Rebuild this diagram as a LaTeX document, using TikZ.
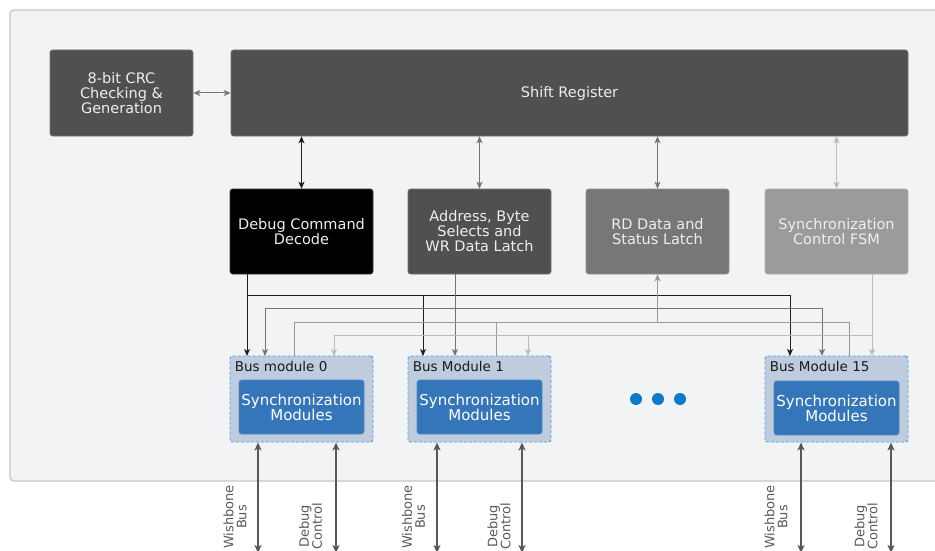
\documentclass[tikz,border=0pt]{standalone}
\usepackage{fontspec}
\setmainfont{DejaVu Sans}
\usetikzlibrary{arrows.meta,calc}

\definecolor{pagebg}{HTML}{FFFFFF}
\definecolor{panel}{HTML}{F2F3F5}
\definecolor{panelline}{HTML}{C6C7C9}
\definecolor{darkblk}{HTML}{505050}
\definecolor{midblk}{HTML}{777777}
\definecolor{lightblk}{HTML}{9B9B9B}
\definecolor{blocktext}{HTML}{EEEEEE}
\definecolor{busfill}{HTML}{BECCDD}
\definecolor{busline}{HTML}{4BA3DD}
\definecolor{syncfill}{HTML}{3476B9}
\definecolor{dotblue}{HTML}{0B7BC9}
\definecolor{wireA}{HTML}{1E1E1E}
\definecolor{wireB}{HTML}{747474}
\definecolor{wireC}{HTML}{999999}
\definecolor{wireD}{HTML}{BBBBBB}
\definecolor{iowire}{HTML}{585858}

\begin{document}
\begin{tikzpicture}[x=1pt,y=-1pt,
  tip/.style={-{Stealth[length=7pt,width=6pt,inset=1.8pt]}},
  dtip/.style={{Stealth[length=7pt,width=6pt,inset=1.8pt]}-{Stealth[length=7pt,width=6pt,inset=1.8pt]}},
  iotip/.style={{Stealth[length=8pt,width=7pt,inset=2pt]}-{Stealth[length=8pt,width=7pt,inset=2pt]}},
  block/.style={rectangle, rounded corners=2.5pt, fill=#1, draw=#1!80!white, line width=0.6pt,
    minimum width=143pt, minimum height=85pt, inner sep=0pt, align=center,
    text=blocktext, font=\fontsize{14.5}{15}\selectfont},
  busbox/.style={rectangle, rounded corners=2.5pt, fill=busfill, draw=busline, dashed,
    dash pattern=on 3pt off 2pt, line width=0.9pt, minimum width=143pt, minimum height=86pt, inner sep=0pt},
  syncbox/.style={rectangle, rounded corners=2.5pt, fill=syncfill, draw=syncfill!85!white, line width=0.6pt,
    minimum width=125pt, minimum height=54pt, inner sep=0pt, align=center,
    text=white, font=\fontsize{15}{15}\selectfont},
  buslabel/.style={anchor=west, inner sep=0pt, text=black!90, font=\fontsize{13.5}{14}\selectfont},
  iolabel/.style={rotate=90, align=center, inner sep=0pt, text=black!65, font=\fontsize{13}{13}\selectfont},
  wire/.style={line width=1pt, draw=#1},
  iowirestyle/.style={line width=1.5pt, draw=iowire}
]
\useasboundingbox (0,0) rectangle (935,551);
\fill[pagebg] (0,0) rectangle (935,551);

% outer panel (runs past the right edge)
\draw[panelline, fill=panel, line width=1.3pt, rounded corners=4pt] (10,10) rectangle (960,481);

% top row
\node[block=darkblk, minimum height=86pt] (crc) at (121.5,93) {8-bit CRC\\Checking \&\\Generation};
\node[block=darkblk, minimum width=677pt, minimum height=86pt] (shift) at (569.5,93) {Shift Register};

% second row
\node[block=black] (dec) at (301.5,231.5) {Debug Command\\Decode};
\node[block=darkblk] (addr) at (479.5,231.5) {Address, Byte\\Selects and\\WR Data Latch};
\node[block=midblk] (rd) at (657.5,231.5) {RD Data and\\Status Latch};
\node[block=lightblk] (fsm) at (836.5,231.5) {Synchronization\\Control FSM};

% bus modules
\node[busbox] (bus0) at (301.5,399) {};
\node[busbox] (bus1) at (479.5,399) {};
\node[busbox] (bus15) at (836.5,399) {};
\node[syncbox] (sm0) at (301.5,407) {Synchronization\\Modules};
\node[syncbox] (sm1) at (479.5,407) {Synchronization\\Modules};
\node[syncbox] (sm15) at (836.5,408) {Synchronization\\Modules};
\node[buslabel] (bl0) at ($(bus0.north west)+(5,11)$) {Bus module 0};
\node[buslabel] (bl1) at ($(bus1.north west)+(5,11)$) {Bus Module 1};
\node[buslabel] (bl15) at ($(bus15.north west)+(5,11)$) {Bus Module 15};

% ellipsis between modules
\foreach \px in {636,658,680} \fill[dotblue] (\px,399) circle (6pt);

% links to the shift register
\draw[wire=wireB, dtip] (crc.east) -- (shift.west);
\draw[wire=wireA, dtip] (shift.south -| dec.north) -- (dec.north);
\draw[wire=wireB, dtip] (shift.south -| addr.north) -- (addr.north);
\draw[wire=wireB, dtip] (shift.south -| rd.north) -- (rd.north);
\draw[wire=wireD, dtip] (shift.south -| fsm.north) -- (fsm.north);

% drop points on the bus modules
\coordinate (b0a) at (247,356);  \coordinate (b0b) at (265,356);
\coordinate (b0c) at (294,356);  \coordinate (b0d) at (334,356);
\coordinate (b1a) at (423,356);  \coordinate (b1b) at (455,356);
\coordinate (b1c) at (496,356);  \coordinate (b1d) at (528,356);
\coordinate (b15a) at (790,356); \coordinate (b15b) at (822,356);
\coordinate (b15c) at (849,356); \coordinate (b15d) at (872,356);
\coordinate (ya) at (0,295); \coordinate (yb) at (0,308);
\coordinate (yc) at (0,322); \coordinate (yd) at (0,335);

% command decode fan-out
\draw[wire=wireA, tip] (b0a |- dec.south) -- (b0a);
\draw[wire=wireA] (b0a |- ya) -- (b15a |- ya);
\draw[wire=wireA, tip] (b1a |- ya) -- (b1a);
\draw[wire=wireA, tip] (b15a |- ya) -- (b15a);

% address / write data fan-out
\draw[wire=wireB, tip] (b1b |- addr.south) -- (b1b);
\draw[wire=wireB] (b0b |- yb) -- (b15b |- yb);
\draw[wire=wireB, tip] (b0b |- yb) -- (b0b);
\draw[wire=wireB, tip] (b15b |- yb) -- (b15b);

% read data collection
\draw[wire=wireC] (b0c) -- (b0c |- yc) -- (b15c |- yc) -- (b15c);
\draw[wire=wireC] (b1c) -- (b1c |- yc);
\draw[wire=wireC, tip] (rd.south |- yc) -- (rd.south);

% synchronization control fan-out
\draw[wire=wireD, tip] (b15d |- fsm.south) -- (b15d);
\draw[wire=wireD] (b0d |- yd) -- (b15d |- yd);
\draw[wire=wireD, tip] (b0d |- yd) -- (b0d);
\draw[wire=wireD, tip] (b1d |- yd) -- (b1d);

% external ports
\coordinate (p0w) at (258,553);  \coordinate (p0d) at (336,553);
\coordinate (p1w) at (437,553);  \coordinate (p1d) at (522,553);
\coordinate (p15w) at (801,553); \coordinate (p15d) at (891,553);
\draw[iowirestyle, iotip] (p0w |- bus0.south) -- (p0w);
\draw[iowirestyle, iotip] (p0d |- bus0.south) -- (p0d);
\draw[iowirestyle, iotip] (p1w |- bus1.south) -- (p1w);
\draw[iowirestyle, iotip] (p1d |- bus1.south) -- (p1d);
\draw[iowirestyle, iotip] (p15w |- bus15.south) -- (p15w);
\draw[iowirestyle, iotip] (p15d |- bus15.south) -- (p15d);

\node[iolabel] (l0w) at (235,517) {Wishbone\\Bus};
\node[iolabel] (l0d) at (310.5,526.5) {Debug\\Control};
\node[iolabel] (l1w) at (413.5,517) {Wishbone\\Bus};
\node[iolabel] (l1d) at (499,526.5) {Debug\\Control};
\node[iolabel] (l15w) at (776,517) {Wishbone\\Bus};
\node[iolabel] (l15d) at (866,526.5) {Debug\\Control};
\end{tikzpicture}
\end{document}
